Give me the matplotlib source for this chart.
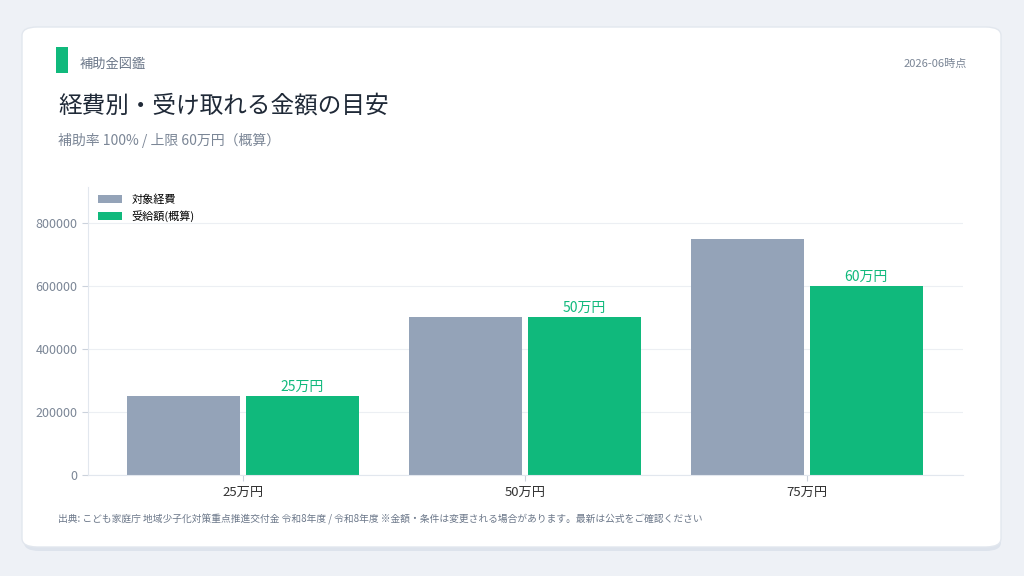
import matplotlib
matplotlib.use("Agg")
import matplotlib.pyplot as plt
from matplotlib.patches import FancyBboxPatch
import numpy as np

plt.rcParams['font.family'] = ['Noto Sans CJK JP', 'DejaVu Sans']

categories = ["25万円", "50万円", "75万円"]
expense = [250000, 500000, 750000]
grant = [250000, 500000, 600000]
grant_labels = ["25万円", "50万円", "60万円"]

W, H = 1024, 576
fig = plt.figure(figsize=(W/100, H/100), dpi=100)
fig.patch.set_facecolor("#eef1f6")

def fx(x): return x / W
def fy(y): return 1 - y / H

# card shadow + card
fig.patches.append(FancyBboxPatch((fx(24), fy(551)), fx(977), (551-31)/H,
    boxstyle="round,pad=0,rounding_size=0.015", transform=fig.transFigure,
    facecolor="#dde3ec", edgecolor="none", zorder=-2))
fig.patches.append(FancyBboxPatch((fx(22), fy(547)), fx(979), (547-27)/H,
    boxstyle="round,pad=0,rounding_size=0.015", transform=fig.transFigure,
    facecolor="white", edgecolor="#e2e7ee", linewidth=1, zorder=-1))
fig.patches.append(plt.Rectangle((fx(56), fy(73)), fx(12), 26/H, transform=fig.transFigure,
    facecolor="#10b97c", edgecolor="none", zorder=1))

fig.text(fx(80), fy(64), "補助金図鑑", fontsize=9.5, color="#6b7789", va="center")
fig.text(fx(967), fy(64), "2026-06時点", fontsize=8, color="#7b8696", va="center", ha="right")
fig.text(fx(58), fy(106), "経費別・受け取れる金額の目安", fontsize=17, color="#1f2937", va="center")
fig.text(fx(58), fy(141), "補助率 100% / 上限 60万円（概算）", fontsize=10, color="#7b8696", va="center")
fig.text(fx(58), fy(519), "出典: こども家庭庁 地域少子化対策重点推進交付金 令和8年度 / 令和8年度 ※金額・条件は変更される場合があります。最新は公式をご確認ください",
         fontsize=7, color="#6b7789", va="center")

ax = fig.add_axes([fx(88), fy(475), fx(963-88), (475-187)/H])
ax.set_zorder(2)
ax.set_facecolor("white")
x = np.arange(len(categories))
w = 0.4
ax.bar(x - 0.21, expense, w, color="#94a3b8", label="対象経費", zorder=2)
b = ax.bar(x + 0.21, grant, w, color="#10b97c", label="受給額(概算)", zorder=2)
for rect, lab in zip(b, grant_labels):
    ax.text(rect.get_x() + rect.get_width()/2, rect.get_height() + 8000, lab,
            ha="center", va="bottom", fontsize=10, color="#10b97c")
ax.set_xlim(-0.55, 2.553)
ax.set_ylim(0, 914000)
ax.set_yticks([0, 200000, 400000, 600000, 800000])
ax.set_yticklabels(["0", "200000", "400000", "600000", "800000"])
ax.set_xticks(x)
ax.set_xticklabels(categories)
ax.tick_params(axis="y", colors="#7b8696", labelsize=9, length=4, color="#cbd2dc")
ax.tick_params(axis="x", colors="#333333", labelsize=9.5, length=4, color="#cbd2dc")
ax.grid(axis="y", color="#eceff3", linewidth=0.8, zorder=0)
for s in ["top", "right"]:
    ax.spines[s].set_visible(False)
ax.spines["left"].set_color("#e2e7ee")
ax.spines["bottom"].set_color("#e2e7ee")
leg = ax.legend(loc="upper left", frameon=False, fontsize=8, handlelength=2.2,
                handleheight=0.8, bbox_to_anchor=(0.0, 1.01))

fig.savefig("out.png", dpi=100, facecolor=fig.get_facecolor())
